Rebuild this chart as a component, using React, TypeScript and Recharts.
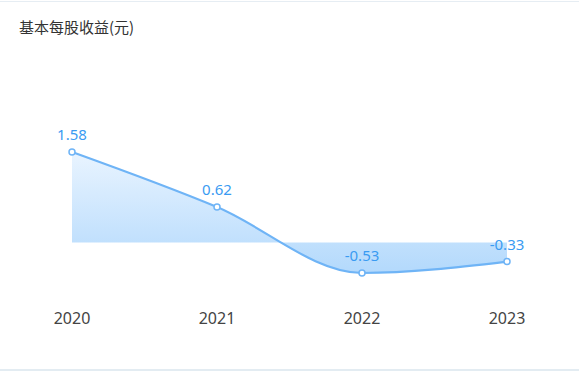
import React from "react";
import { Area, AreaChart, LabelList, XAxis, YAxis } from "recharts";

const years = ["2020", "2021", "2022", "2023"];
const eps = [1.58, 0.62, -0.53, -0.33];

const data = years.map((year, i) => ({ year, eps: eps[i] }));

export default function App() {
  return (
    <div
      style={{
        position: "absolute",
        left: 0,
        top: 0,
        width: 579,
        height: 372,
        background: "#fff",
        fontFamily: "'Noto Sans CJK SC', 'Noto Sans', sans-serif",
      }}
    >
      <div style={{ position: "absolute", left: 0, top: 1, width: 579, height: 1, background: "#e6edf3" }} />
      <div style={{ position: "absolute", left: 0, top: 369, width: 579, height: 2, background: "#e3ecf2" }} />
      <div style={{ position: "absolute", left: 19, top: 16, fontSize: 15, color: "#333" }}>基本每股收益(元)</div>
      <AreaChart
        width={579}
        height={372}
        data={data}
        margin={{ top: 152, right: 0, bottom: 39, left: 0 }}
        style={{ position: "absolute", left: 0, top: 0 }}
      >
        <defs>
          <linearGradient id="epsFill" x1="0" y1="0" x2="0" y2="1">
            <stop offset="0%" stopColor="#e9f4ff" />
            <stop offset="100%" stopColor="#b3d9fc" />
          </linearGradient>
        </defs>
        <XAxis
          dataKey="year"
          axisLine={false}
          tickLine={false}
          height={60}
          padding={{ left: 72, right: 72 }}
          tickMargin={34}
          tick={{ fill: "#444", fontSize: 16, fontFamily: "'Noto Sans', sans-serif" }}
          interval={0}
        />
        <YAxis hide domain={[-0.53, 1.58]} />
        <Area
          type="monotone"
          dataKey="eps"
          stroke="#6fb4f6"
          strokeWidth={2.2}
          fill="url(#epsFill)"
          fillOpacity={1}
          dot={{ r: 3, fill: "#fff", stroke: "#6fb4f6", strokeWidth: 1.5 }}
          isAnimationActive={false}
        >
          <LabelList
            dataKey="eps"
            position="top"
            offset={12}
            fill="#3a9bf2"
            fontSize={15}
            fontFamily="'Noto Sans', sans-serif"
          />
        </Area>
      </AreaChart>
    </div>
  );
}
